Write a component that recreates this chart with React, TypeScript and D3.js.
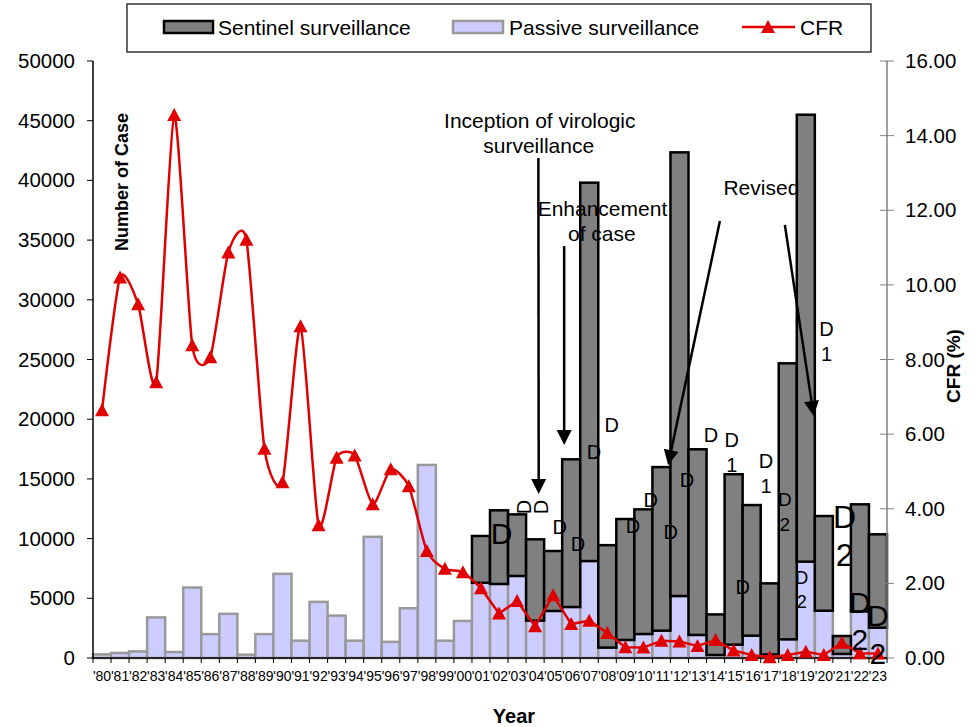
import React from 'react'
import * as d3 from 'd3'

const years = ["'80", "'81", "'82", "'83", "'84", "'85", "'86", "'87", "'88", "'89", "'90", "'91", "'92", "'93", "'94", "'95", "'96", "'97", "'98", "'99", "'00",
  "'01", "'02", "'03", "'04", "'05", "'06", "'07", "'08", "'09", "'10", "'11", "'12", "'13", "'14", "'15", "'16", "'17", "'18", "'19", "'20", "'21", "'22", "'23"]

// passive surveillance cases (bottom of each stack)
const passive = [300, 420, 550, 3400, 500, 5900, 2000, 3700, 280, 2000, 7050, 1450, 4700, 3550, 1450, 10150, 1350, 4170, 16170, 1450, 3100,
  6300, 6200, 6870, 3130, 3940, 4270, 8120, 870, 1510, 2010, 2290, 5190, 1930, 250, 1120, 1870, 300, 1560, 8070, 3960, 340, 3900, 2540]

// sentinel surveillance cases, stacked on top (none before '01)
const sentinel = [0, 0, 0, 0, 0, 0, 0, 0, 0, 0, 0, 0, 0, 0, 0, 0, 0, 0, 0, 0, 0,
  3920, 6170, 5160, 6810, 5020, 12370, 31690, 8580, 10130, 10440, 13700, 37160, 15550, 3400, 14270, 10940, 5950, 23120, 37430, 7930, 1500, 8970, 7820]

// case fatality rate (%)
const cfr = [6.64, 10.20, 9.48, 7.39, 14.55, 8.38, 8.06, 10.87, 11.21, 5.61, 4.71, 8.89, 3.56, 5.37, 5.43, 4.12, 5.06, 4.60, 2.87, 2.39, 2.30,
  1.87, 1.19, 1.53, 0.85, 1.68, 0.91, 1.00, 0.67, 0.29, 0.28, 0.46, 0.44, 0.32, 0.48, 0.20, 0.08, 0.02, 0.08, 0.17, 0.08, 0.41, 0.13, 0.12]

// stray data labels left in the figure: [text, category position, cases, font size]
const strayLabels: [string, number, number, number][] = [
  ['D', 28.75, 19500, 20], ['D', 27.76, 17250, 20], ['D', 34.24, 18680, 20],
  ['D', 35.4, 18260, 20], ['1', 35.4, 16160, 20], ['D', 37.3, 16500, 20], ['1', 37.3, 14400, 20],
  ['D', 38.34, 13320, 19], ['2', 38.34, 11220, 19], ['D', 40.65, 27550, 20], ['1', 40.65, 25460, 20],
  ['D', 30.91, 13280, 20], ['D', 29.92, 11050, 20], ['D', 32.91, 14950, 20], ['D', 32.02, 10550, 20],
  ['D', 25.87, 10970, 20], ['D', 26.87, 9550, 20], ['D', 22.64, 10470, 30],
  ['D', 41.65, 11890, 32], ['2', 41.65, 8630, 32], ['D', 42.49, 4690, 30], ['2', 42.49, 1590, 30],
  ['D', 43.49, 3600, 30], ['2', 43.49, 420, 30], ['D', 36.01, 5950, 20], ['D', 39.28, 6780, 18], ['2', 39.28, 4690, 18]
]
const archLabels: [number, number][] = [[23.88, 12650], [24.82, 12650]]

// annotation arrows: [from pos, from cases, to pos, to cases]
const arrows: [number, number, number, number][] = [
  [24.68, 41880, 24.7, 13740],
  [26.11, 34500, 26.11, 17840],
  [34.74, 36600, 31.87, 16160],
  [38.34, 36270, 39.94, 20270]
]
// annotation text: [text, center pos, baseline cases]
const notes: [string, number, number][] = [
  ['Inception of virologic', 24.76, 44390], ['surveillance', 24.7, 42300],
  ['Enhancement', 28.23, 37020], ['of case', 28.2, 34920], ['Revised', 37.04, 38780]
]

const W = 979
const H = 727
const left = 93
const right = 887
const top = 61
const bottom = 658
const font = '"Liberation Sans", Arial, sans-serif'

function Arrow({ x1, y1, x2, y2 }: { x1: number, y1: number, x2: number, y2: number }) {
  const ang = Math.atan2(y2 - y1, x2 - x1)
  const len = 15, half = 7.5
  const bx = x2 - len * Math.cos(ang), by = y2 - len * Math.sin(ang)
  const px = -Math.sin(ang) * half, py = Math.cos(ang) * half
  return (
    <g>
      <line x1={x1} y1={y1} x2={bx} y2={by} stroke="#000" strokeWidth={2.5} />
      <path d={`M${x2},${y2}L${bx + px},${by + py}L${bx - px},${by - py}Z`} fill="#000" />
    </g>
  )
}

export default function App() {
  const x = d3.scaleBand<string>().domain(years).range([left, right]).padding(0)
  const pos = (i: number) => left + i * x.step()
  const yL = d3.scaleLinear().domain([0, 50000]).range([bottom, top])
  const yR = d3.scaleLinear().domain([0, 16]).range([bottom, top])
  const bw = x.bandwidth()

  const pts: [number, number][] = cfr.map((v, i) => [x(years[i])! + bw / 2, yR(v)])
  const smooth = d3.line().curve(d3.curveCardinal.tension(0.35))(pts.slice(0, 22))
  const straight = d3.line()(pts.slice(21))
  const tri = (cx: number, cy: number) => `M${cx},${cy - 7}L${cx + 7},${cy + 6}L${cx - 7},${cy + 6}Z`

  return (
    <svg width={W} height={H} style={{ position: 'absolute', left: 0, top: 0, background: '#fff' }} fontFamily={font}>
      <rect width={W} height={H} fill="#fff" />

      {/* legend */}
      <g>
        <rect x={127} y={4} width={744} height={48} fill="#fff" stroke="#333" strokeWidth={1.5} />
        <rect x={164} y={21} width={49} height={12} fill="#808080" stroke="#000" strokeWidth={2.5} />
        <text x={218} y={35} fontSize={21}>Sentinel surveillance</text>
        <rect x={453} y={21} width={50} height={12} fill="#ccccff" stroke="#999" strokeWidth={2.5} />
        <text x={509} y={35} fontSize={21}>Passive surveillance</text>
        <line x1={742} x2={795} y1={27} y2={27} stroke="#e00000" strokeWidth={2.5} />
        <path d={tri(768, 27)} fill="#e00000" />
        <text x={800} y={35} fontSize={21}>CFR</text>
      </g>

      {/* bars */}
      {passive.map((v, i) => (
        <rect key={'p' + i} x={x(years[i])} y={yL(v)} width={bw} height={yL(0) - yL(v)}
          fill="#ccccff" stroke="#999" strokeWidth={2.5} />
      ))}
      {sentinel.map((v, i) => v > 0 && (
        <rect key={'s' + i} x={x(years[i])} y={yL(passive[i] + v)} width={bw} height={yL(passive[i]) - yL(passive[i] + v)}
          fill="#808080" stroke="#000" strokeWidth={2.5} />
      ))}

      {/* left axis */}
      <line x1={left} x2={left} y1={top} y2={bottom} stroke="#000" strokeWidth={1.5} />
      {yL.ticks(10).map(t => (
        <g key={'l' + t}>
          <line x1={left - 6} x2={left} y1={yL(t)} y2={yL(t)} stroke="#000" strokeWidth={1} />
          <text x={75} y={yL(t) + 7} fontSize={20.5} textAnchor="end">{t}</text>
        </g>
      ))}
      {/* right axis */}
      <line x1={right} x2={right} y1={top} y2={bottom} stroke="#808080" strokeWidth={1.5} />
      {yR.ticks(8).map(t => (
        <g key={'r' + t}>
          <line x1={right - 7} x2={right + 7} y1={yR(t)} y2={yR(t)} stroke="#808080" strokeWidth={1} />
          <text x={905} y={yR(t) + 7} fontSize={20.5}>{d3.format('.2f')(t)}</text>
        </g>
      ))}
      {/* x axis */}
      <line x1={left} x2={right} y1={bottom} y2={bottom} stroke="#000" strokeWidth={1.5} />
      {d3.range(years.length + 1).map(i => (
        <line key={'xt' + i} x1={pos(i)} x2={pos(i)} y1={bottom} y2={bottom + 5} stroke="#000" strokeWidth={1} />
      ))}
      {years.map(yr => (
        <text key={'xl' + yr} x={x(yr)! + bw / 2} y={681} fontSize={14} textAnchor="middle">{yr}</text>
      ))}

      {/* axis titles */}
      <text transform="translate(128,182) rotate(-90)" fontSize={18} fontWeight="bold" textAnchor="middle">Number of Case</text>
      <text transform="translate(960,366) rotate(-90)" fontSize={19} fontWeight="bold" textAnchor="middle">CFR (%)</text>
      <text x={514} y={723} fontSize={20} fontWeight="bold" textAnchor="middle">Year</text>

      {/* CFR line */}
      <path d={smooth!} fill="none" stroke="#e00000" strokeWidth={2.5} />
      <path d={straight!} fill="none" stroke="#e00000" strokeWidth={2.5} />
      {pts.map(([cx, cy], i) => <path key={'m' + i} d={tri(cx, cy)} fill="#e00000" />)}

      {/* stray labels */}
      {strayLabels.map(([t, p, v, fs], i) => (
        <text key={'d' + i} x={pos(p)} y={yL(v) + fs * 0.36} fontSize={fs} textAnchor="middle">{t}</text>
      ))}
      {archLabels.map(([p, v], i) => (
        <text key={'a' + i} transform={`translate(${pos(p)},${yL(v)}) rotate(-90)`} fontSize={20} textAnchor="middle" dy={7}>D</text>
      ))}

      {/* annotations */}
      {notes.map(([t, p, v], i) => (
        <text key={'n' + i} x={pos(p)} y={yL(v)} fontSize={21} textAnchor="middle">{t}</text>
      ))}
      {arrows.map(([p1, v1, p2, v2], i) => (
        <Arrow key={'ar' + i} x1={pos(p1)} y1={yL(v1)} x2={pos(p2)} y2={yL(v2)} />
      ))}
    </svg>
  )
}
